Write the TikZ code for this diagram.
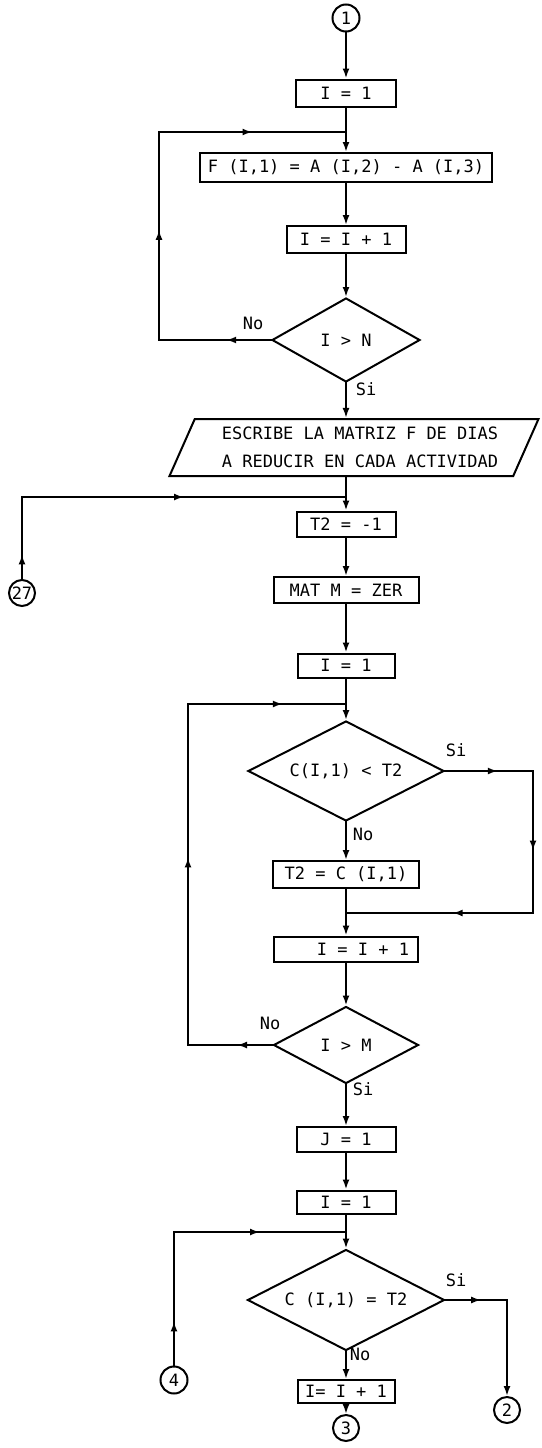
\documentclass[tikz,border=0pt]{standalone}
\usepackage{fontspec}
\setmonofont{DejaVu Sans Mono}
\usetikzlibrary{shapes.geometric,arrows.meta,decorations.markings}

\begin{document}
\begin{tikzpicture}[x=1pt,y=-1pt,font=\ttfamily\fontsize{17}{20}\selectfont]
  % Estilos del diagrama de flujo
  \tikzset{
    flow/.style={line width=2pt,line cap=rect},
    arr/.style={flow,-{Latex[length=10pt,width=7pt]}},
    midarrow/.style={flow,postaction={decorate},
      decoration={markings,mark=at position #1 with {\arrow{Latex[length=10pt,width=7pt]}}}},
    proc_node/.style={rectangle,draw,line width=2pt,inner sep=2pt},
    dec_node/.style={diamond,draw,line width=2pt,inner sep=0pt,shape aspect=2},
    io_node/.style={trapezium,trapezium left angle=62,trapezium right angle=118,
      trapezium stretches body,draw,line width=2pt,align=center},
    con_node/.style={circle,draw,line width=2pt,minimum size=27pt,inner sep=0pt},
    lbl/.style={inner sep=0pt}
  }
  \useasboundingbox (0,0) rectangle (541,1448);

  % Primer ciclo: calculo de F
  \node[con_node] (con1) at (346,18) {1};
  \node[proc_node,minimum width=100pt,minimum height=27pt] (ini1) at (346,93) {I = 1};
  \coordinate (join1) at (346,132);
  \node[proc_node,minimum width=292pt,minimum height=29pt] (calcF) at (346,167.5) {F (I,1) = A (I,2) - A (I,3)};
  \node[proc_node,minimum width=119pt,minimum height=27pt] (inc1) at (346,239.5) {I = I + 1};
  \node[dec_node,minimum width=148pt,minimum height=84pt] (test1) at (346,340) {I > N};
  \node[lbl] (no1) at (253,323) {No};
  \node[lbl] (si1) at (366,389) {Si};
  \coordinate (lft1) at (159,340);

  % Salida de la matriz F
  \node[io_node,minimum width=369pt,minimum height=57pt] (out1) at (354,447.5)
    {\hspace*{12pt}ESCRIBE LA MATRIZ F DE DIAS\\[8pt]\hspace*{12pt}A REDUCIR EN CADA ACTIVIDAD};
  \coordinate (join2) at (346,497);
  \node[con_node,minimum size=26pt] (con27) at (22,593) {27};

  % Segundo ciclo: busqueda de T2
  \node[proc_node,minimum width=99pt,minimum height=25pt] (t2) at (346,524) {T2 = -1};
  \node[proc_node,minimum width=145pt,minimum height=26pt] (matM) at (346,590) {MAT M = ZER};
  \node[proc_node,minimum width=97pt,minimum height=24pt] (ini2) at (346,665.5) {I = 1};
  \coordinate (join3) at (346,704);
  \node[dec_node,minimum width=196pt,minimum height=100pt] (test2) at (346,771) {C(I,1) < T2};
  \node[lbl] (si2) at (456,750) {Si};
  \node[lbl] (no2) at (363,834) {No};
  \coordinate (rgt2) at (533,771);
  \node[proc_node,minimum width=146pt,minimum height=27pt] (setT2) at (346,874.5) {T2 = C (I,1)};
  \coordinate (join4) at (346,913);
  \node[proc_node,minimum width=144pt,minimum height=25pt] (inc2) at (346,949) {\hspace*{34pt}I = I + 1};
  \node[dec_node,minimum width=145pt,minimum height=77pt] (test3) at (346,1045) {I > M};
  \node[lbl] (no3) at (270,1023) {No};
  \node[lbl] (si3) at (363,1089) {Si};
  \coordinate (lft3) at (188,1045);

  % Tercer ciclo: comparacion con T2
  \node[proc_node,minimum width=99pt,minimum height=25pt] (iniJ) at (346,1139.5) {J = 1};
  \node[proc_node,minimum width=99pt,minimum height=23pt] (ini3) at (346,1202) {I = 1};
  \coordinate (join5) at (346,1232);
  \node[dec_node,minimum width=197pt,minimum height=101pt] (test4) at (346,1300) {C (I,1) = T2};
  \node[lbl] (si4) at (456,1280) {Si};
  \node[lbl] (no4) at (360,1354) {No};
  \node[proc_node,minimum width=97pt,minimum height=23pt] (inc3) at (346,1391.5) {I= I + 1};
  \node[con_node,minimum size=26pt] (con3) at (346,1428) {3};
  \node[con_node,minimum size=26pt] (con2) at (507,1410) {2};
  \node[con_node] (con4) at (174,1380) {4};

  % Conexiones del primer ciclo
  \draw[arr] (con1) -- (ini1);
  \draw[flow] (ini1) -- (join1);
  \draw[arr] (join1) -- (calcF);
  \draw[arr] (calcF) -- (inc1);
  \draw[arr] (inc1) -- (test1);
  \draw[midarrow=0.4] (test1.west) -- (test1.west -| lft1);
  \draw[midarrow=0.53] (test1.west -| lft1) -- (join1 -| lft1);
  \draw[midarrow=0.5] (join1 -| lft1) -- (join1);
  \draw[arr] (test1.south) -- (test1.south |- out1.north);

  % Conexiones del segundo ciclo
  \draw[flow] (join2 |- out1.south) -- (join2);
  \draw[midarrow=0.3] (con27) -- (con27 |- join2);
  \draw[midarrow=0.5] (con27 |- join2) -- (join2);
  \draw[arr] (join2) -- (t2);
  \draw[arr] (t2) -- (matM);
  \draw[arr] (matM) -- (ini2);
  \draw[flow] (ini2) -- (join3);
  \draw[arr] (join3) -- (test2);
  \draw[arr] (test2) -- (setT2);
  \draw[midarrow=0.6] (test2.east) -- (rgt2);
  \draw[midarrow=0.56] (rgt2) -- (join4 -| rgt2);
  \draw[midarrow=0.43] (join4 -| rgt2) -- (join4);
  \draw[flow] (setT2) -- (join4);
  \draw[arr] (join4) -- (inc2);
  \draw[arr] (inc2) -- (test3);
  \draw[midarrow=0.42] (test3.west) -- (lft3);
  \draw[midarrow=0.55] (lft3) -- (join3 -| lft3);
  \draw[midarrow=0.6] (join3 -| lft3) -- (join3);

  % Conexiones del tercer ciclo
  \draw[arr] (test3) -- (iniJ);
  \draw[arr] (iniJ) -- (ini3);
  \draw[flow] (ini3) -- (join5);
  \draw[midarrow=0.33] (con4) -- (con4 |- join5);
  \draw[midarrow=0.5] (con4 |- join5) -- (join5);
  \draw[arr] (join5) -- (test4);
  \draw[midarrow=0.58] (test4.east) -- (test4.east -| con2);
  \draw[arr] (test4.east -| con2) -- (con2);
  \draw[arr] (test4) -- (inc3);
  \draw[arr] (inc3) -- (con3);
\end{tikzpicture}
\end{document}
